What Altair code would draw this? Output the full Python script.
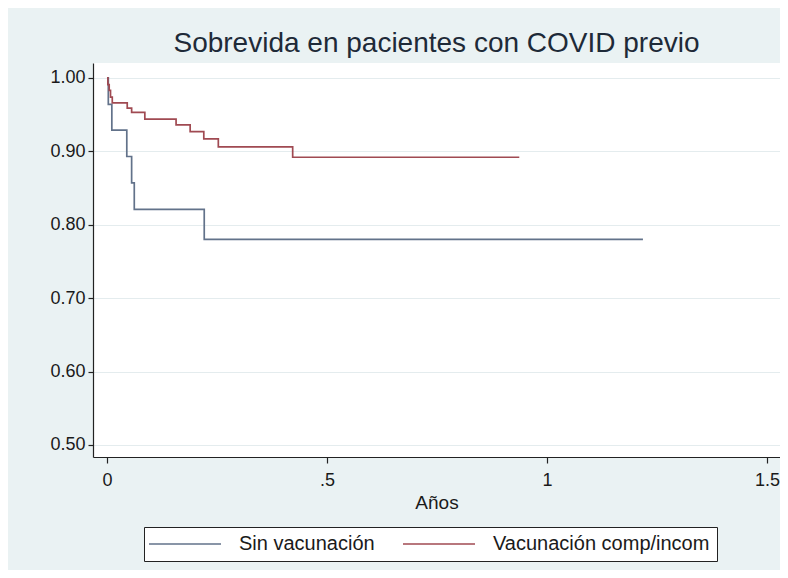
import altair as alt
import pandas as pd

# ---- data (Kaplan-Meier step curves) ----
groups = ["Sin vacunación", "Vacunación comp/incom"]
colors = ["#62728a", "#a04a52"]

sin_t = [0.0, 0.003, 0.011, 0.045, 0.056, 0.062, 0.221, 1.218]
sin_s = [1.000, 0.964, 0.929, 0.893, 0.857, 0.821, 0.780, 0.780]

vac_t = [0.0, 0.002, 0.005, 0.008, 0.012, 0.046, 0.056, 0.086, 0.157, 0.189,
         0.220, 0.253, 0.422, 0.937]
vac_s = [1.000, 0.991, 0.983, 0.974, 0.966, 0.959, 0.953, 0.944, 0.936, 0.927,
         0.917, 0.906, 0.892, 0.892]

y_ticks = [0.5, 0.6, 0.7, 0.8, 0.9, 1.0]
x_ticks = [0, 0.5, 1, 1.5]
x_tick_labels = ["0", ".5", "1", "1.5"]

title = "Sobrevida en pacientes con COVID previo"
x_title = "Años"

rows = []
for t, s in zip(sin_t, sin_s):
    rows.append({"t": t, "s": s, "grupo": groups[0]})
for t, s in zip(vac_t, vac_s):
    rows.append({"t": t, "s": s, "grupo": groups[1]})
df = pd.DataFrame(rows)

label_expr = " : ".join(
    f"datum.value == {v} ? '{l}'" for v, l in zip(x_ticks, x_tick_labels)
) + " : ''"

FONT = "Liberation Sans"
INK = "#1a1a1a"

chart = (
    alt.Chart(df)
    .mark_line(interpolate="step-after", strokeWidth=1.7)
    .encode(
        x=alt.X(
            "t:Q",
            scale=alt.Scale(domain=[-0.0318, 1.5295], nice=False, zero=False),
            axis=alt.Axis(
                values=x_ticks,
                labelExpr=label_expr,
                title=x_title,
                grid=False,
                tickSize=6,
                labelPadding=8,
                titlePadding=4,
                labelFontSize=18,
                titleFontSize=19,
            ),
        ),
        y=alt.Y(
            "s:Q",
            scale=alt.Scale(domain=[0.4836, 1.0204], nice=False, zero=False),
            axis=alt.Axis(
                values=y_ticks,
                format=".2f",
                title=None,
                grid=True,
                tickSize=5,
                labelPadding=3,
                labelFontSize=18,
            ),
        ),
        color=alt.Color(
            "grupo:N",
            scale=alt.Scale(domain=groups, range=colors),
            legend=alt.Legend(
                title=None,
                orient="none",
                legendX=51,
                legendY=464,
                direction="horizontal",
                symbolType="M-2,0H10",
                symbolSize=144,
                symbolStrokeWidth=1.7,
                labelOffset=68,
                columnPadding=24,
                padding=7,
                labelLimit=0,
                strokeColor="#222222",
                fillColor="white",
                labelFontSize=20,
                labelColor=INK,
                labelFont=FONT,
            ),
        ),
    )
    .properties(
        width=687,
        height=394,
        title=alt.TitleParams(
            text=title,
            fontSize=28,
            font=FONT,
            fontWeight="normal",
            color="#1e2a38",
            anchor="middle",
            baseline="alphabetic",
            offset=-17,
        ),
        background="#eaf2f3",
        padding={"left": 85, "top": 55, "right": 0, "bottom": 113},
        autosize=alt.AutoSizeParams(type="none"),
    )
    .configure_view(fill="white", strokeWidth=0)
    .configure_axis(
        labelFont=FONT,
        titleFont=FONT,
        labelColor=INK,
        titleColor=INK,
        titleFontWeight="normal",
        domainColor="#222222",
        tickColor="#222222",
        domainWidth=1.2,
        tickWidth=1.2,
        gridColor="#e4ecee",
        gridWidth=1,
    )
)

chart.save("out.html", embed_options={"renderer": "svg", "actions": False})
